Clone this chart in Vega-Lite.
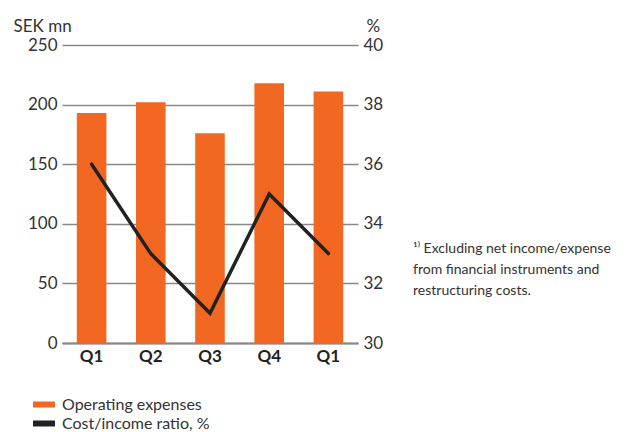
{
  "$schema": "https://vega.github.io/schema/vega-lite/v6.json",
  "autosize": "none",
  "width": 296,
  "height": 298,
  "padding": {"left": 62, "top": 45, "right": 267, "bottom": 89},
  "background": "white",
  "config": {
    "font": "Lato",
    "view": {"stroke": null},
    "axis": {"labelFont": "Lato", "titleFont": "Lato"}
  },
  "title": {
    "text": ["¹⁾ Excluding net income/expense", "from financial instruments and", "restructuring costs."],
    "orient": "top",
    "anchor": "start",
    "frame": "group",
    "baseline": "top",
    "dx": 351,
    "dy": 285,
    "fontSize": 14,
    "fontWeight": "normal",
    "color": "#333",
    "lineHeight": 21,
    "font": "Lato"
  },
  "data": {
    "values": [
      {"key": "a", "quarter": "Q1", "expenses": 193, "ratio": 36},
      {"key": "b", "quarter": "Q2", "expenses": 202, "ratio": 33},
      {"key": "c", "quarter": "Q3", "expenses": 176, "ratio": 31},
      {"key": "d", "quarter": "Q4", "expenses": 218, "ratio": 35},
      {"key": "e", "quarter": "Q1", "expenses": 211, "ratio": 33}
    ]
  },
  "encoding": {
    "x": {
      "field": "key",
      "type": "nominal",
      "sort": null,
      "scale": {"paddingInner": 0.5, "paddingOuter": 0.25},
      "axis": {
        "title": null,
        "labelAngle": 0,
        "labelExpr": "{'a':'Q1','b':'Q2','c':'Q3','d':'Q4','e':'Q1'}[datum.value]",
        "labelFontSize": 17,
        "labelFontWeight": "bold",
        "labelColor": "#222",
        "labelPadding": 5,
        "ticks": false,
        "domain": true,
        "domainColor": "#888",
        "domainWidth": 2,
        "grid": false
      }
    }
  },
  "layer": [
    {
      "mark": {"type": "bar", "color": "#F26722"},
      "encoding": {
        "y": {
          "field": "expenses",
          "type": "quantitative",
          "scale": {"domain": [0, 250]},
          "axis": {
            "values": [0, 50, 100, 150, 200, 250],
            "title": "SEK mn",
            "titleAngle": 0,
            "titleAlign": "left",
            "titleBaseline": "middle",
            "titleX": -49,
            "titleY": -19,
            "titleFontSize": 17,
            "titleFontWeight": "normal",
            "titleColor": "#333",
            "labelFontSize": 17,
            "labelColor": "#333",
            "labelPadding": 5,
            "ticks": false,
            "domain": false,
            "grid": true,
            "gridColor": "#888",
            "gridWidth": 1.5
          }
        },
        "color": {
          "datum": "Operating expenses",
          "type": "nominal",
          "scale": {"domain": ["Operating expenses", "Cost/income ratio, %"], "range": ["#F26722", "#222222"]},
          "legend": {
            "title": null,
            "orient": "none",
            "legendX": -29,
            "legendY": 350,
            "symbolType": "M-1,-0.27H1V0.27H-1Z",
            "symbolSize": 484,
            "symbolStrokeWidth": 0,
            "labelFontSize": 16,
            "labelColor": "#333",
            "labelFont": "Lato",
            "rowPadding": 0,
            "clipHeight": 19,
            "labelOffset": 7
          }
        }
      }
    },
    {
      "mark": {"type": "line", "strokeWidth": 3.5, "strokeCap": "round", "strokeJoin": "miter"},
      "encoding": {
        "y": {
          "field": "ratio",
          "type": "quantitative",
          "scale": {"domain": [30, 40]},
          "axis": {
            "orient": "right",
            "values": [30, 32, 34, 36, 38, 40],
            "title": "%",
            "titleAngle": 0,
            "titleAlign": "left",
            "titleBaseline": "middle",
            "titleX": 8,
            "titleY": -19,
            "titleFontSize": 17,
            "titleFontWeight": "normal",
            "titleColor": "#333",
            "labelFontSize": 17,
            "labelColor": "#333",
            "labelPadding": 5,
            "ticks": false,
            "domain": false,
            "grid": false
          }
        },
        "color": {"datum": "Cost/income ratio, %", "type": "nominal"}
      }
    }
  ],
  "resolve": {"scale": {"y": "independent"}}
}
